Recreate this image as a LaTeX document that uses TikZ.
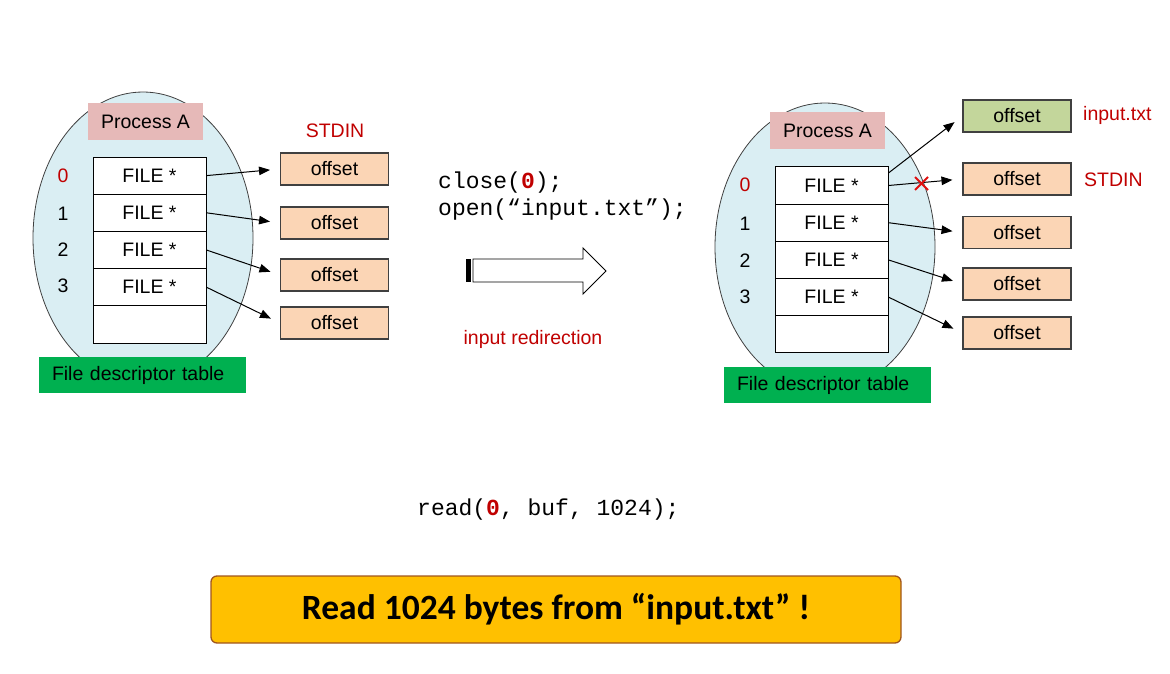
\documentclass[tikz,border=0pt]{standalone}
\usepackage{fontspec}
\setmainfont{Liberation Sans}
\setmonofont{Liberation Mono}
\newfontfamily\calib{Carlito}
\usetikzlibrary{arrows.meta}
\definecolor{ellfill}{HTML}{DAEEF3}
\definecolor{procfill}{HTML}{E6B9B8}
\definecolor{tabgreen}{HTML}{00B050}
\definecolor{peach}{HTML}{FBD5B5}
\definecolor{lgreen}{HTML}{C3D69B}
\definecolor{redtxt}{HTML}{C00000}
\definecolor{crossred}{HTML}{E01010}
\definecolor{gold}{HTML}{FFC000}
\definecolor{goldborder}{HTML}{A0561E}
\begin{document}
\begin{tikzpicture}[x=1pt,y=-1pt,
  lbl/.style={font=\fontsize{19.5}{22}\selectfont, inner sep=0pt},
  fcell/.style={draw=black, line width=0.9pt, fill=white, minimum width=113pt, minimum height=37.2pt, lbl},
  offbox/.style={draw=black!75, line width=1.1pt, fill=peach, minimum width=108pt, minimum height=32pt, lbl},
  procbox/.style={fill=procfill, minimum width=115pt, minimum height=37pt, lbl},
  tabbox/.style={fill=tabgreen, minimum height=36pt, text width=181pt, inner xsep=13pt, inner ysep=0pt, align=left, font=\fontsize{19.5}{22}\selectfont},
  ell/.style={draw=black!75, line width=0.8pt, fill=ellfill},
  ptr/.style={-{Triangle[length=11pt,width=8.5pt]}, line width=1pt, shorten >=10pt},
  redlbl/.style={lbl, text=redtxt},
  code/.style={font=\ttfamily\fontsize{23}{27}\selectfont, inner sep=0pt, anchor=base west}
]
\useasboundingbox (0,0) rectangle (1170,674);

% ---------- left diagram ----------
\draw[ell] (143,238) ellipse [x radius=110pt, y radius=146pt];
\node[procbox] (pA) at (145.5,121.5) {Process A};
\node[fcell] (l0) at (149.5,175.6) {FILE *};
\node[fcell] (l1) at (149.5,212.8) {FILE *};
\node[fcell] (l2) at (149.5,250.0) {FILE *};
\node[fcell] (l3) at (149.5,287.2) {FILE *};
\node[fcell] (l4) at (149.5,324.4) {};
\node[lbl, text=redtxt] (ln0) at (63,176) {0};
\node[lbl] (ln1) at (63,214) {1};
\node[lbl] (ln2) at (63,250) {2};
\node[lbl] (ln3) at (63,286) {3};
\node[tabbox] (ltab) at (142.5,375) {File descriptor table};
\node[redlbl] (lstdin) at (335,131) {STDIN};
\node[offbox] (lo0) at (334.5,169) {offset};
\node[offbox] (lo1) at (334.5,223) {offset};
\node[offbox] (lo2) at (334.5,275) {offset};
\node[offbox] (lo3) at (334.5,323) {offset};
\draw[ptr] (l0.east) -- (lo0.west);
\draw[ptr] (l1.east) -- (lo1.west);
\draw[ptr] (l2.east) -- (lo2.west);
\draw[ptr] (l3.east) -- (lo3.west);

% ---------- middle ----------
\node[code] (c1) at (438,188) {close(\textcolor{redtxt}{\textbf{0}});};
\node[code] (c2) at (438,215) {open(“input.txt”);};
\fill[black] (466,259) rectangle (470.5,282);
\draw[line width=0.9pt, fill=white] (473,259) -- (583,259) -- (583,248) -- (606,271) -- (583,294) -- (583,282) -- (473,282) -- cycle;
\node[redlbl] (redir) at (533,339) {input redirection};

% ---------- right diagram ----------
\draw[ell] (825,247) ellipse [x radius=110pt, y radius=144pt];
\node[procbox] (pB) at (827.5,130.5) {Process A};
\node[fcell] (r0) at (831.5,185.5) {FILE *};
\node[fcell] (r1) at (831.5,222.7) {FILE *};
\node[fcell] (r2) at (831.5,259.9) {FILE *};
\node[fcell] (r3) at (831.5,297.1) {FILE *};
\node[fcell] (r4) at (831.5,334.3) {};
\node[lbl, text=redtxt] (rn0) at (745,185) {0};
\node[lbl] (rn1) at (745,224) {1};
\node[lbl] (rn2) at (745,261) {2};
\node[lbl] (rn3) at (745,297) {3};
\node[tabbox] (rtab) at (827.5,385) {File descriptor table};
\node[offbox, fill=lgreen] (ro0) at (1017,116) {offset};
\node[offbox] (ro1) at (1017,179) {offset};
\node[offbox] (ro2) at (1017,232.5) {offset};
\node[offbox] (ro3) at (1017,284) {offset};
\node[offbox] (ro4) at (1017,333) {offset};
\node[redlbl, anchor=west] (rinput) at (1083,115) {input.txt};
\node[redlbl, anchor=west] (rstdin) at (1084,180) {STDIN};
\draw[ptr] ([yshift=12.5pt]r0.east) -- (ro0.west);
\draw[ptr] (r0.east) -- (ro1.west);
\draw[ptr] (r1.east) -- (ro2.west);
\draw[ptr] (r2.east) -- (ro3.west);
\draw[ptr] (r3.east) -- (ro4.west);
\coordinate (xc) at (921.5,183.5);
\draw[crossred, line width=2pt] ([xshift=-6.5pt,yshift=6.5pt]xc) -- ([xshift=6.5pt,yshift=-6.5pt]xc);
\draw[crossred, line width=2pt] ([xshift=-6.5pt,yshift=-6.5pt]xc) -- ([xshift=6.5pt,yshift=6.5pt]xc);

% ---------- bottom ----------
\node[code] (rd) at (417,515) {read(\textcolor{redtxt}{\textbf{0}}, buf, 1024);};
\node[draw=goldborder, line width=1.3pt, fill=gold, rounded corners=6pt, minimum width=690pt, minimum height=67pt, inner sep=0pt, font=\calib\bfseries\fontsize{35.5}{40}\selectfont] (res) at (556,609.5) {Read 1024 bytes from “input.txt” !};
\end{tikzpicture}
\end{document}
